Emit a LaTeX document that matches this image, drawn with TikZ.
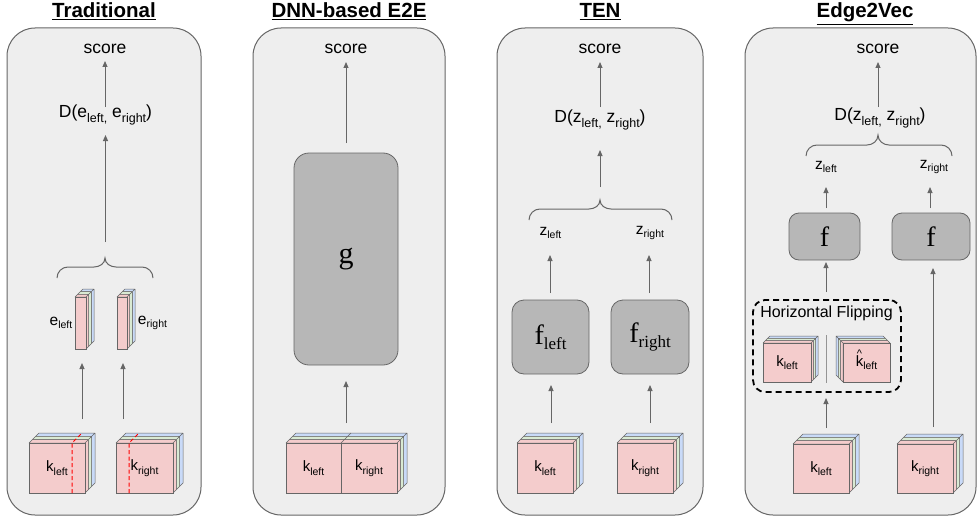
\documentclass[tikz,border=0pt]{standalone}
\usepackage{fontspec}
\setmainfont{Liberation Sans}
\newfontfamily\serifface{Liberation Serif}
\usetikzlibrary{arrows.meta}
\definecolor{panelfill}{HTML}{EEEEEE}
\definecolor{edgec}{HTML}{666666}
\definecolor{boxfill}{HTML}{B7B7B7}
\definecolor{cpink}{HTML}{F4CCCC}
\definecolor{cgreen}{HTML}{D9EAD3}
\definecolor{cblue}{HTML}{C9DAF8}
\definecolor{arrc}{HTML}{666666}
\newcommand\sbA[1]{\raisebox{-4.5pt}{\fontsize{12.5pt}{13pt}\selectfont #1}}
\newcommand\sbB[1]{\raisebox{-3.5pt}{\fontsize{10.5pt}{11pt}\selectfont #1}}
\newcommand\sbC[1]{\raisebox{-5pt}{\fontsize{17pt}{18pt}\selectfont #1}}
% layers behind a cube front: x0 y0 x1 y1 depth dir
\newcommand\cubelayers[6]{%
  \foreach \kk/\lc in {2/cblue,1/cgreen,0/cpink}{%
    \pgfmathsetmacro\sa{\kk*#5/3}%
    \pgfmathsetmacro\sb{(\kk+1)*#5/3}%
    \pgfmathsetmacro\xs{ifthenelse(#6>0,#3,#1)}%
    \filldraw[fill=\lc,draw=edgec,line width=0.5pt,line join=round]
      ({#1+#6*\sa},{#2-\sa}) -- ({#1+#6*\sb},{#2-\sb}) -- ({#3+#6*\sb},{#2-\sb}) -- ({#3+#6*\sa},{#2-\sa}) -- cycle
      ({\xs+#6*\sa},{#2-\sa}) -- ({\xs+#6*\sb},{#2-\sb}) -- ({\xs+#6*\sb},{#4-\sb}) -- ({\xs+#6*\sa},{#4-\sa}) -- cycle;
  }%
}
% curly brace: xl xm xr yend ybar ycusp
\newcommand\curly[6]{%
  \draw[bracec] (#1,#4) to[out=90,in=180] ({#1+11},#5) -- ({#2-11},#5)
    to[out=0,in=270] (#2,#6) to[out=270,in=180] ({#2+11},#5) -- ({#3-11},#5)
    to[out=0,in=90] (#3,#4);%
}
\tikzset{
  panel/.style={draw=edgec,fill=panelfill,line width=1pt,rounded corners=28pt,inner sep=0,outer sep=0},
  graybox/.style={draw=edgec,fill=boxfill,line width=0.8pt,rounded corners=12pt,inner sep=0,outer sep=0},
  front/.style={draw=edgec,fill=cpink,line width=0.6pt,inner sep=0,outer sep=0,font=\fontsize{15pt}{17pt}\selectfont},
  lbl/.style={inner sep=0,font=\fontsize{17.5pt}{20pt}\selectfont},
  sml/.style={inner sep=0,font=\fontsize{15.5pt}{17pt}\selectfont},
  ttl/.style={inner sep=0,anchor=base,font=\fontsize{20.5pt}{22pt}\selectfont\bfseries},
  arr/.style={draw=arrc,line width=1pt,-{Triangle[length=6pt,width=5pt]}},
  bracec/.style={draw=edgec,line width=1pt},
  reddash/.style={draw=red,line width=1pt,dash pattern=on 4pt off 2.5pt},
}
\begin{document}
\begin{tikzpicture}[x=1pt,y=-1pt]
\useasboundingbox (0,0) rectangle (977,519);
% titles
\node[ttl] (t1) at (104,18) {\underline{Traditional}};
\node[ttl] (t2) at (349,18) {\underline{DNN-based E2E}};
\node[ttl] (t3) at (600,18) {\underline{TEN}};
\node[ttl] (t4) at (865,18) {\underline{Edge2Vec}};
% panels
\node[panel,minimum width=194pt,minimum height=487pt] (P1) at (104,271.5) {};
\node[panel,minimum width=192pt,minimum height=487pt] (P2) at (349,271.5) {};
\node[panel,minimum width=206pt,minimum height=487pt] (P3) at (600,271.5) {};
\node[panel,minimum width=231pt,minimum height=487pt] (P4) at (860.5,271.5) {};

% ---------- Panel 1: Traditional ----------
\node[lbl] (s1) at (105,49) {score};
\node[lbl] (d1) at (105.5,115) {D(e\sbA{left,} e\sbA{right})};
\curly{57}{105}{153}{278}{267}{258}
\cubelayers{75}{297}{86}{349}{8}{1}
\node[front,minimum width=11pt,minimum height=52pt] (e1) at (80.5,323) {};
\cubelayers{117}{297}{127}{349}{8}{1}
\node[front,minimum width=10pt,minimum height=52pt] (e2) at (122,323) {};
\node[sml] (e1l) at (61,323) {e\sbB{left}};
\node[sml] (e2l) at (152.5,323) {e\sbB{right}};
\cubelayers{29}{443}{85}{493}{10}{1}
\node[front,minimum width=56pt,minimum height=50pt] (k1l) at (57,468) {k\sbB{left}};
\cubelayers{116}{443}{173}{493}{10}{1}
\node[front,minimum width=57pt,minimum height=50pt] (k1r) at (144.5,468) {k\sbB{right}};
\coordinate (r1a) at (72,443); \coordinate (r1b) at (72,493); \coordinate (r1c) at (82,433);
\coordinate (r2a) at (129,443); \coordinate (r2b) at (129,493); \coordinate (r2c) at (139,433);
\draw[reddash] (r1b) -- (r1a) -- (r1c);
\draw[reddash] (r2b) -- (r2a) -- (r2c);
\coordinate (a1s) at (105,107); \coordinate (a1e) at (105,61);
\coordinate (a2s) at (105.5,242); \coordinate (a2e) at (105.5,135);
\coordinate (a3s) at (82,419); \coordinate (a3e) at (82,363);
\coordinate (a4s) at (123,419); \coordinate (a4e) at (123,363);
\draw[arr] (a1s) -- (a1e);
\draw[arr] (a2s) -- (a2e);
\draw[arr] (a3s) -- (a3e);
\draw[arr] (a4s) -- (a4e);

% ---------- Panel 2: DNN-based E2E ----------
\node[lbl] (s2) at (346,49) {score};
\node[graybox,rounded corners=15pt,minimum width=104pt,minimum height=212pt,font=\serifface\fontsize{30pt}{32pt}\selectfont] (g) at (346,259) {g};
\cubelayers{286}{443}{397}{493}{10}{1}
\draw[draw=edgec,line width=0.6pt] (341,443) -- (351,433);
\node[front,minimum width=55pt,minimum height=50pt] (k2l) at (313.5,468) {k\sbB{left}};
\node[front,minimum width=56pt,minimum height=50pt] (k2r) at (369,468) {k\sbB{right}};
\coordinate (b1s) at (346,143); \coordinate (b1e) at (346,62);
\coordinate (b2s) at (346,423); \coordinate (b2e) at (346,381);
\draw[arr] (b1s) -- (b1e);
\draw[arr] (b2s) -- (b2e);

% ---------- Panel 3: TEN ----------
\node[lbl] (s3) at (600,49) {score};
\node[lbl] (d3) at (600,120) {D(z\sbA{left,} z\sbA{right})};
\curly{529}{600}{672}{220}{209}{200}
\node[sml] (z3l) at (550.5,233) {z\sbB{left}};
\node[sml] (z3r) at (650,233) {z\sbB{right}};
\node[graybox,minimum width=77pt,minimum height=74pt,font=\serifface\fontsize{28pt}{30pt}\selectfont] (f3l) at (550.5,337) {f\sbC{left}};
\node[graybox,minimum width=78pt,minimum height=74pt,font=\serifface\fontsize{28pt}{30pt}\selectfont] (f3r) at (650,337) {f\sbC{right}};
\cubelayers{517}{443}{573}{493}{10}{1}
\node[front,minimum width=56pt,minimum height=50pt] (k3l) at (545,468) {k\sbB{left}};
\cubelayers{617}{443}{673}{493}{10}{1}
\node[front,minimum width=56pt,minimum height=50pt] (k3r) at (645,468) {k\sbB{right}};
\coordinate (c1s) at (600,107); \coordinate (c1e) at (600,62);
\coordinate (c2s) at (600,187); \coordinate (c2e) at (600,150);
\coordinate (c3s) at (550,293); \coordinate (c3e) at (550,255);
\coordinate (c4s) at (649,293); \coordinate (c4e) at (649,255);
\coordinate (c5s) at (551,423); \coordinate (c5e) at (551,385);
\coordinate (c6s) at (650,423); \coordinate (c6e) at (650,385);
\foreach \p in {c1,c2,c3,c4,c5,c6} \draw[arr] (\p s) -- (\p e);

% ---------- Panel 4: Edge2Vec ----------
\node[lbl] (s4) at (878,49) {score};
\node[lbl] (d4) at (880,118) {D(z\sbA{left,} z\sbA{right})};
\curly{806}{878}{952}{156}{145}{135}
\node[sml] (z4l) at (826,167) {z\sbB{left}};
\node[sml] (z4r) at (934,167) {z\sbB{right}};
\node[graybox,rounded corners=10pt,minimum width=71pt,minimum height=47pt,font=\serifface\fontsize{28pt}{30pt}\selectfont] (f4l) at (824.5,236.5) {f};
\node[graybox,rounded corners=10pt,minimum width=78pt,minimum height=47pt,font=\serifface\fontsize{28pt}{30pt}\selectfont] (f4r) at (931,236.5) {f};
\node[draw=black,line width=1.8pt,dash pattern=on 6pt off 4pt,rounded corners=12pt,minimum width=148pt,minimum height=92pt,inner sep=0] (flip) at (827,346) {};
\node[inner sep=0,font=\fontsize{16pt}{18pt}\selectfont] (flipl) at (826.5,313) {Horizontal Flipping};
\coordinate (dv1) at (826,335); \coordinate (dv2) at (826,383);
\draw[draw=edgec!70,line width=0.8pt] (dv1) -- (dv2);
\cubelayers{763}{343}{811}{382}{7}{1}
\node[front,minimum width=48pt,minimum height=39pt] (kf1) at (787,362.5) {k\sbB{left}};
\cubelayers{843}{343}{890}{382}{7}{-1}
\node[front,minimum width=47pt,minimum height=39pt] (kf2) at (866.5,362.5) {\ooalign{k\cr\hidewidth\raisebox{8.5pt}{\fontsize{11pt}{11pt}\selectfont\textasciicircum}\hidewidth\cr}\sbB{left}};
\cubelayers{793}{444}{849}{493}{10}{1}
\node[front,minimum width=56pt,minimum height=49pt] (k4l) at (821,468.5) {k\sbB{left}};
\cubelayers{897}{444}{953}{493}{10}{1}
\node[front,minimum width=56pt,minimum height=49pt] (k4r) at (925,468.5) {k\sbB{right}};
\coordinate (e1s) at (878,107); \coordinate (e1e) at (878,62);
\coordinate (e2s) at (826,208); \coordinate (e2e) at (826,187);
\coordinate (e3s) at (930,208); \coordinate (e3e) at (930,187);
\coordinate (e4s) at (826,292); \coordinate (e4e) at (826,262);
\coordinate (e5s) at (826,428); \coordinate (e5e) at (826,398);
\coordinate (e6s) at (933,427); \coordinate (e6e) at (933,268);
\foreach \p in {e1,e2,e3,e4,e5,e6} \draw[arr] (\p s) -- (\p e);
\end{tikzpicture}
\end{document}
